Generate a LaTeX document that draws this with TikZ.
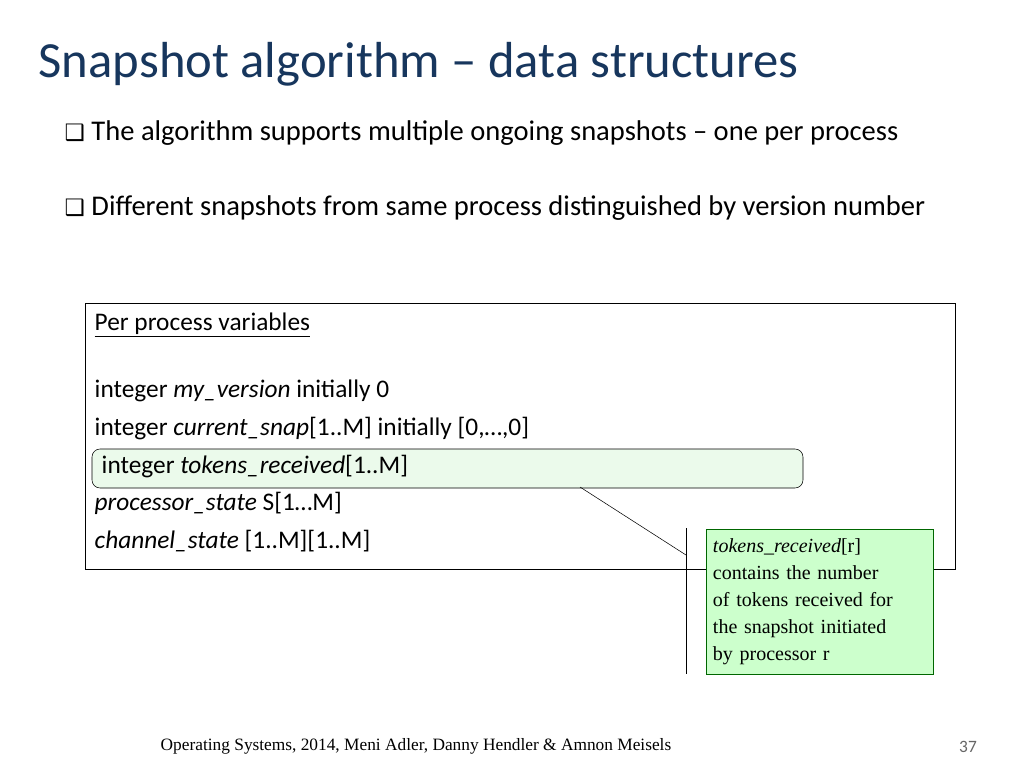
\documentclass[tikz,border=0pt]{standalone}
\usepackage{fontspec}
\setmainfont{Carlito}
\newfontfamily\timesfont{Liberation Serif}
\newfontfamily\symfont{DejaVu Sans}
\definecolor{titleblue}{RGB}{23,54,93}
\definecolor{notegreen}{RGB}{204,255,204}
\definecolor{hlgreen}{RGB}{235,250,235}
\tikzset{
  bullet/.style={anchor=west, font=\fontsize{21.4}{26}\selectfont},
  vartext/.style={anchor=west, font=\fontsize{19}{22}\selectfont},
}
\begin{document}
\begin{tikzpicture}[x=0.75pt,y=-0.75pt]
  % page
  \useasboundingbox (0,0) rectangle (1024,768);
  % title
  \node[anchor=west, text=titleblue, font=\fontsize{38}{44}\selectfont] (title) at (34,64) {Snapshot algorithm -- data structures};
  % bullets
  \node[bullet] (b1) at (60,133) {{\symfont\fontsize{17}{19}\selectfont ❑}\ The algorithm supports multiple ongoing snapshots -- one per process};
  \node[bullet] (b2) at (60,208) {{\symfont\fontsize{17}{19}\selectfont ❑}\ Different snapshots from same process distinguished by version number};
  % variables box
  \draw (85,303) rectangle (955,569);
  \draw[rounded corners=6pt, fill=hlgreen] (92,449) rectangle (803,488);
  \node[vartext] (v0) at (90,325) {\underline{Per process variables}};
  \node[vartext] (v1) at (90,391) {integer \textit{my\_version} initially 0};
  \node[vartext] (v2) at (90,429) {integer \textit{current\_snap}[1..M] initially [0,\dots,0]};
  \node[vartext] (v3) at (97,467) {integer \textit{tokens\_received}[1..M]};
  \node[vartext] (v4) at (90,503) {\textit{processor\_state} S[1\dots M]};
  \node[vartext] (v5) at (90,541) {\textit{channel\_state} [1..M][1..M]};
  % callout
  \node[draw=green!40!black, fill=notegreen, anchor=north west, minimum width=169pt, minimum height=109pt,
        text width=160pt, align=left, inner sep=5pt, font=\timesfont\fontsize{15}{20.3}\selectfont] (note) at (706,529)
    {\textit{tokens\_received}[r]\\ contains the number\\ of tokens received for\\ the snapshot initiated\\ by processor r};
  \coordinate (ctop) at (686,528);
  \coordinate (cbot) at (686,674);
  \coordinate (cmid) at (686,555);
  \coordinate (hl) at (580,487);
  \draw (ctop) -- (cbot);
  \draw (hl) -- (cmid);
  % footer
  \node[font=\timesfont\fontsize{13}{15}\selectfont] (foot) at (416,746) {Operating Systems, 2014, Meni Adler, Danny Hendler \& Amnon Meisels};
  \node[font=\fontsize{13}{15}\selectfont, text=black!60] (page) at (968,747) {37};
\end{tikzpicture}
\end{document}
